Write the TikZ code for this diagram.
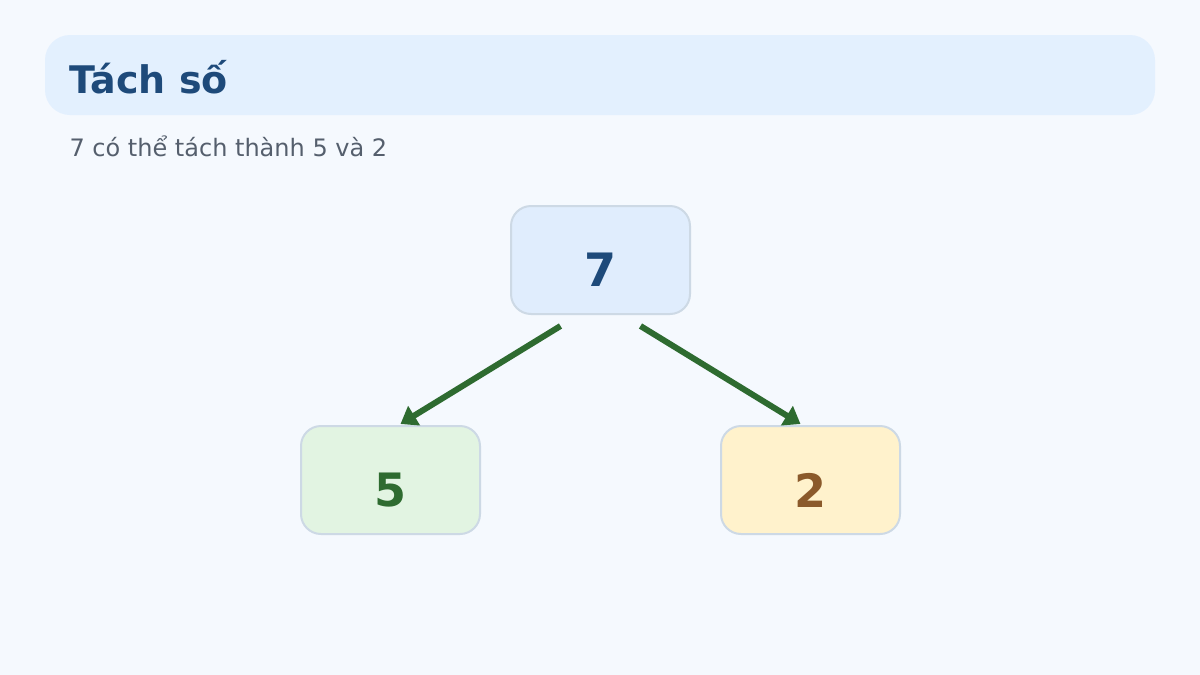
\documentclass[tikz,border=0pt]{standalone}
\usepackage{fontspec}
\setmainfont{DejaVu Sans}
\usetikzlibrary{positioning,calc,arrows.meta}
\definecolor{bgcol}{HTML}{F5F9FE}
\definecolor{headcol}{HTML}{E3F0FE}
\definecolor{titlecol}{HTML}{1E4A7A}
\definecolor{subcol}{HTML}{555F6D}
\definecolor{linecol}{HTML}{CDD9E5}
\definecolor{topfill}{HTML}{E0EDFD}
\definecolor{leftfill}{HTML}{E2F4E2}
\definecolor{leftcol}{HTML}{2E6B30}
\definecolor{rightfill}{HTML}{FFF2CC}
\definecolor{rightcol}{HTML}{8B5A2B}
\tikzset{
  numbox/.style={draw=linecol, line width=2pt, rounded corners=20pt,
    minimum width=179pt, minimum height=108pt},
  numtext/.style={font=\fontsize{46}{54}\selectfont\bfseries},
  split/.style={draw=leftcol, line width=6pt, -{Triangle[length=16pt,width=22pt]}}
}
\begin{document}
\begin{tikzpicture}[x=1pt,y=-1pt]
\fill[bgcol] (0,0) rectangle (1200,675);
\useasboundingbox (0,0) rectangle (1200,675);
\fill[headcol, rounded corners=25pt] (45,35) rectangle (1155,115);
\node[anchor=west, text=titlecol, font=\fontsize{38}{44}\selectfont\bfseries] (title) at (66,77) {Tách số};
\node[anchor=west, text=subcol, font=\fontsize{24}{28}\selectfont] (sub) at (66,146) {7 có thể tách thành 5 và 2};

\node[numbox, fill=topfill] (top) at (600.5,260) {};
\node[numbox, fill=leftfill] (left) at (390.5,480) {};
\node[numbox, fill=rightfill] (right) at (810.5,480) {};
\node[numtext, text=titlecol] (topnum) at ($(top)+(0,10)$) {7};
\node[numtext, text=leftcol] (leftnum) at ($(left)+(0,10)$) {5};
\node[numtext, text=rightcol] (rightnum) at ($(right)+(0,10)$) {2};

\draw[split] ($(top.south)+(-40,11)$) -- ($(left.north)+(10,-1)$);
\draw[split] ($(top.south)+(40,11)$) -- ($(right.north)+(-10,-1)$);
\end{tikzpicture}
\end{document}
